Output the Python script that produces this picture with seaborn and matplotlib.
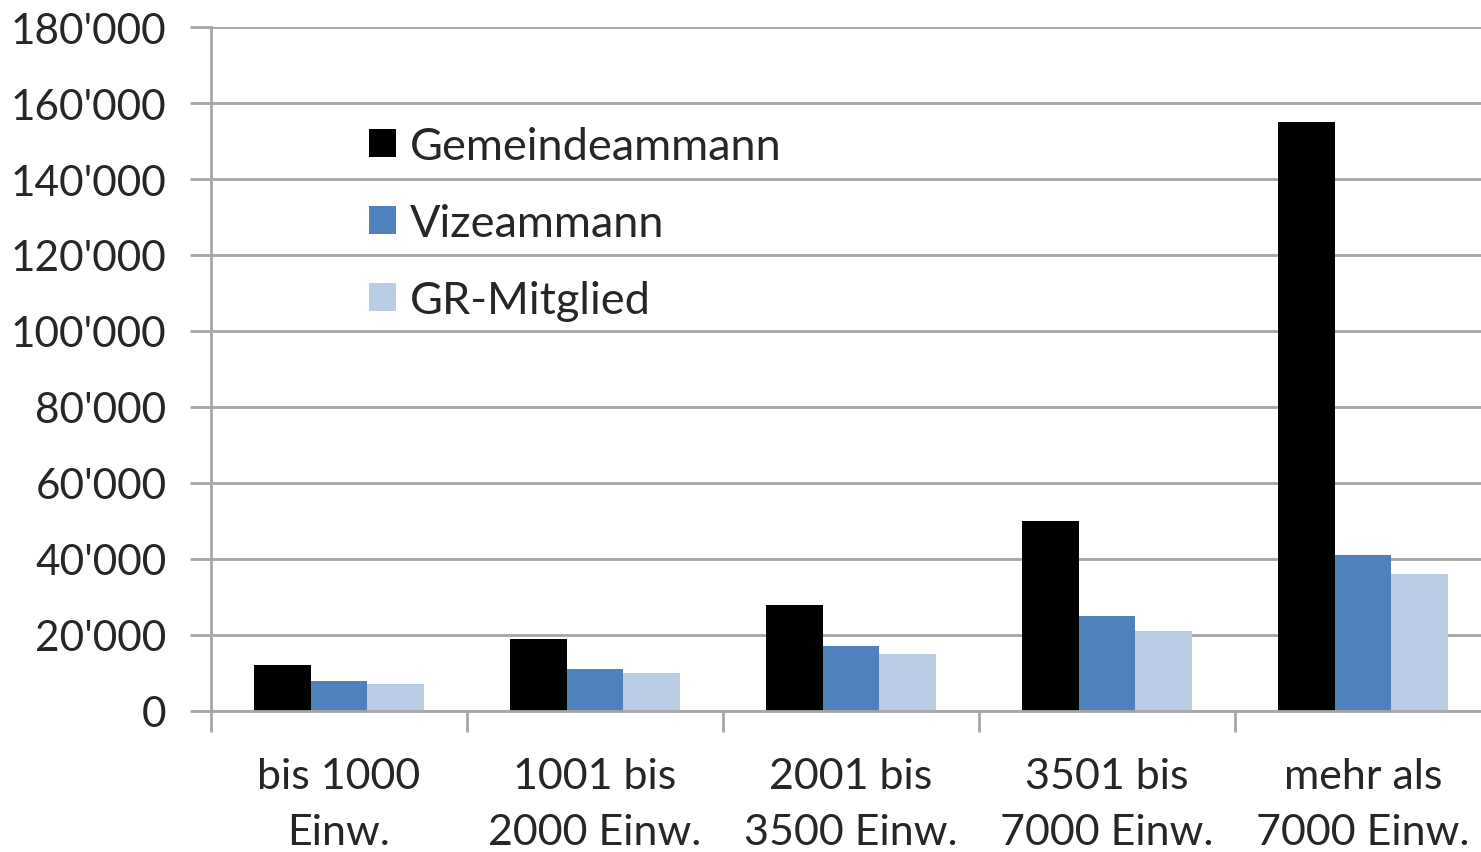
import numpy as np
import pandas as pd
import matplotlib
matplotlib.use("Agg")
import matplotlib.pyplot as plt
import seaborn as sns

# data
categories = ["bis 1000\nEinw.", "1001 bis\n2000 Einw.", "2001 bis\n3500 Einw.",
              "3501 bis\n7000 Einw.", "mehr als\n7000 Einw."]
series = ["Gemeindeammann", "Vizeammann", "GR-Mitglied"]
gemeindeammann = [12000, 19000, 28000, 50000, 155000]
vizeammann = [8000, 11000, 17000, 25000, 41000]
gr_mitglied = [7000, 10000, 15000, 21000, 36000]
yticks = list(range(0, 180001, 20000))
colors = ["#000000", "#4F81BD", "#B9CDE5"]

sns.set_theme(style="white")
plt.rcParams["font.family"] = ["Lato", "DejaVu Sans"]

df = pd.DataFrame({
    "Kategorie": categories * 3,
    "Serie": [s for s in series for _ in categories],
    "Wert": gemeindeammann + vizeammann + gr_mitglied,
})

fig = plt.figure(figsize=(14.81, 8.53), dpi=100)
ax = fig.add_axes([211 / 1481, (853 - 712) / 853, 1280 / 1481, 684 / 853])

sns.barplot(data=df, x="Kategorie", y="Wert", hue="Serie", order=categories,
            hue_order=series, palette=colors, width=0.667, gap=0, ax=ax,
            saturation=1, edgecolor="none", linewidth=0)

ax.set_xlim(-0.5, 4.5)
ax.set_ylim(0, 180000)
ax.set_yticks(yticks)
ax.set_yticklabels(["0" if v == 0 else f"{v:,}".replace(",", "'") for v in yticks],
                   fontsize=30.5)
ax.grid(axis="y", color="#A6A6A6", linewidth=2)
ax.set_axisbelow(True)

# category labels centred, tick marks on the group boundaries
ax.set_xticks(range(len(categories)))
ax.set_xticklabels(categories, fontsize=31, linespacing=1.6)
ax.set_xticks(np.arange(-0.5, 5.0, 1.0), minor=True)
ax.tick_params(axis="x", which="major", length=0, pad=33)
ax.tick_params(axis="x", which="minor", length=15, width=2, color="#A6A6A6",
               direction="out", bottom=True)
ax.tick_params(axis="y", length=15, width=2, color="#A6A6A6", left=True, pad=17)

for side in ["top", "right"]:
    ax.spines[side].set_visible(False)
for side in ["left", "bottom"]:
    ax.spines[side].set_color("#A6A6A6")
    ax.spines[side].set_linewidth(2)

ax.set_xlabel("")
ax.set_ylabel("")

leg = ax.legend(loc="upper left", bbox_to_anchor=(0.092, 0.915), frameon=False,
                fontsize=32.5, handlelength=0.6, handleheight=0.6,
                handletextpad=0.3, labelspacing=0.8)

fig.savefig("out.png", dpi=100)
